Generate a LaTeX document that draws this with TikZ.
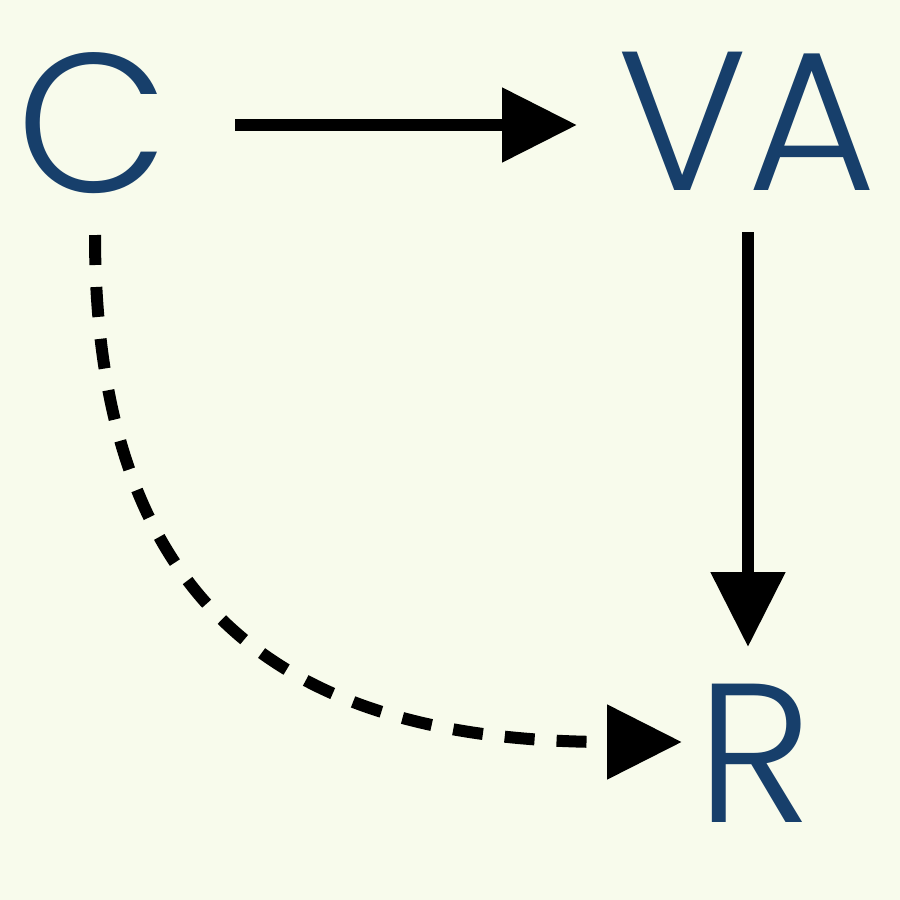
\documentclass[tikz,border=0pt]{standalone}
\usepackage{fontspec}
\setmainfont{Poppins}[UprightFont=* Light]
\usetikzlibrary{arrows.meta}
\definecolor{bg}{HTML}{F8FBEC}
\definecolor{txt}{HTML}{173F6B}
\tikzset{lbl/.style={text=txt,font=\fontsize{198}{198}\selectfont,inner sep=0pt,anchor=base},
conn/.style={line width=12pt,-{Triangle[length=75pt,width=72pt]}}}
\begin{document}
\begin{tikzpicture}[x=1pt,y=-1pt]
\fill[bg] (0,0) rectangle (900,900);
\useasboundingbox (0,0) rectangle (900,900);
\node[lbl] (C) at (93,192) {C};
\node[lbl] (VA) at (747,190) {VA};
\node[lbl] (R) at (755,822) {R};
\coordinate (c1) at (235,125);
\coordinate (va1) at (577,125);
\coordinate (va2) at (748,232);
\coordinate (r1) at (748,647);
\coordinate (c2) at (95,235);
\coordinate (r2) at (682,742);
\draw[conn] (c1) -- (va1);
\draw[conn] (va2) -- (r1);
\draw[conn,dash pattern=on 30pt off 22pt] (c2) .. controls (95,620) and (300,742) .. (r2);
\end{tikzpicture}
\end{document}
